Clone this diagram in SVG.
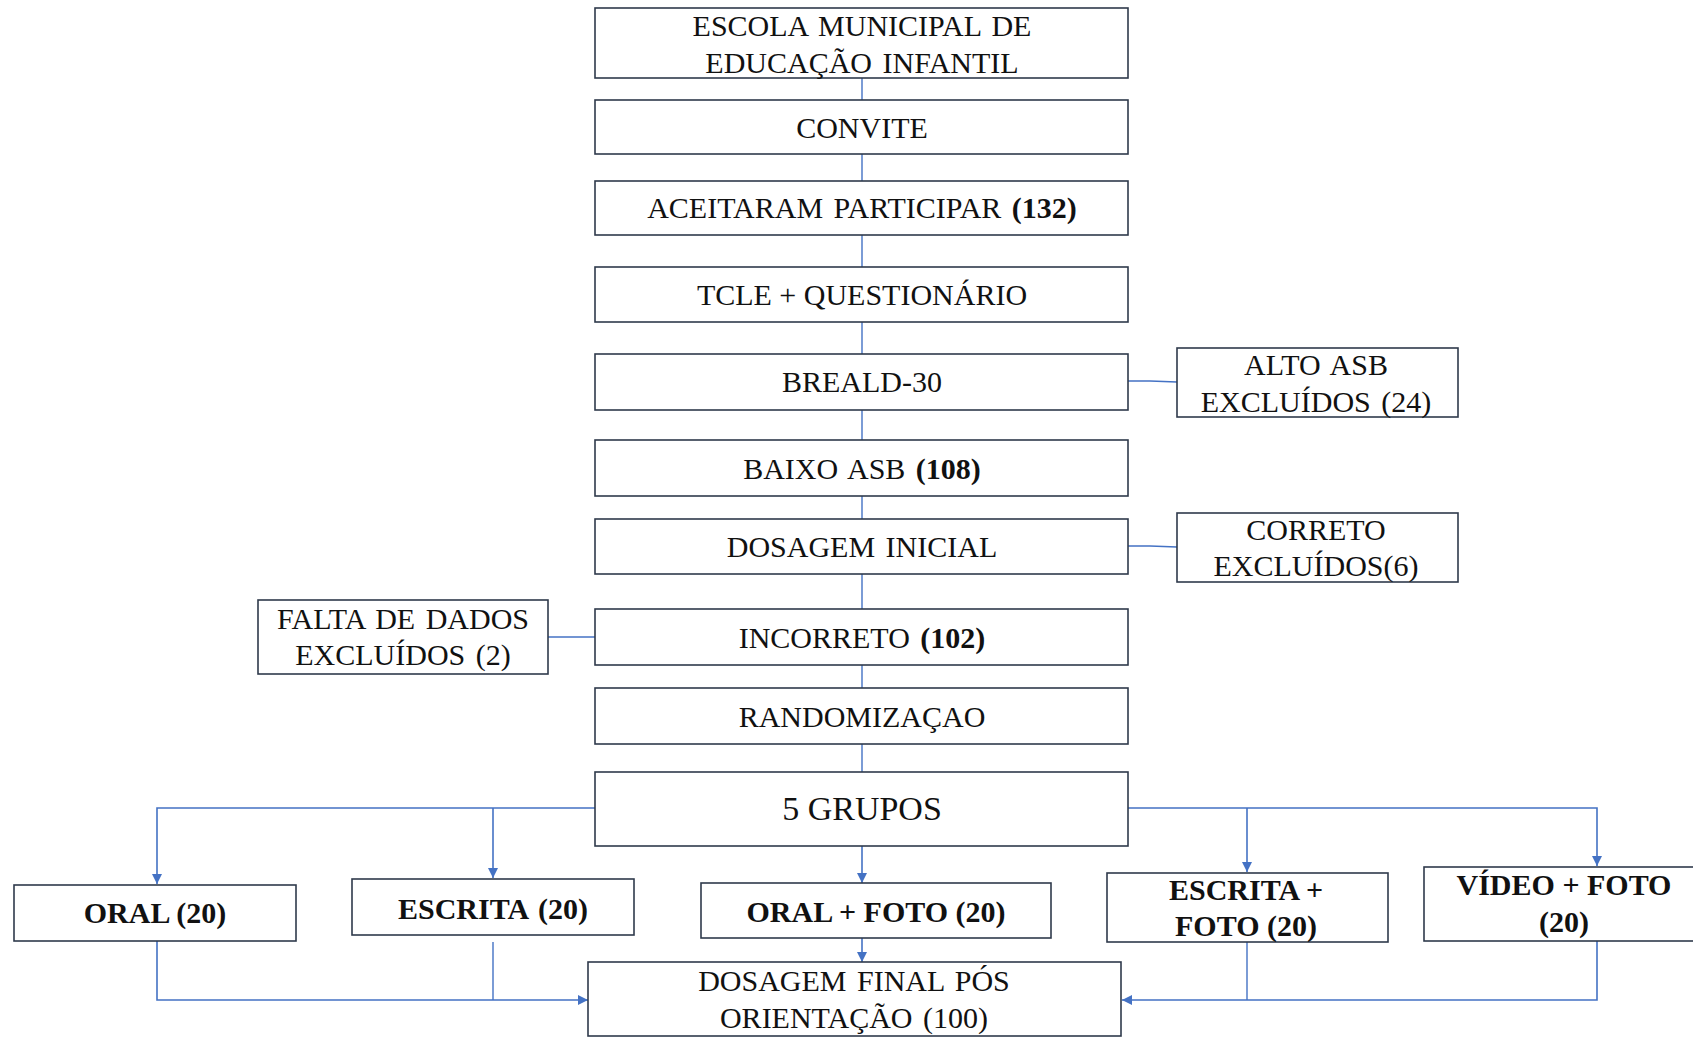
<svg xmlns="http://www.w3.org/2000/svg" width="1693" height="1037" viewBox="0 0 1693 1037">
<style>
.box{fill:#ffffff;stroke:#2f3a4b;stroke-width:1.6}
.t{font-family:"Liberation Serif","Times New Roman",serif;font-size:30px;fill:#111111;text-anchor:middle;word-spacing:3px}
.n{word-spacing:0px}
.b{font-weight:bold}
.big{font-size:34px}
.c{fill:none;stroke:#4472c4;stroke-width:1.4}
.ca{fill:none;stroke:#4472c4;stroke-width:1.6;marker-end:url(#ah)}
</style>
<defs>
<marker id="ah" viewBox="0 0 10 10" refX="10" refY="5" markerWidth="10" markerHeight="11" markerUnits="userSpaceOnUse" orient="auto">
<path d="M0,0 L10,5 L0,10 z" fill="#4472c4"/>
</marker>
</defs>
<rect width="1693" height="1037" fill="#ffffff"/>

<g id="connectors">
<line class="c" x1="862" y1="78" x2="862" y2="100"/>
<line class="c" x1="862" y1="154" x2="862" y2="181"/>
<line class="c" x1="862" y1="235" x2="862" y2="267"/>
<line class="c" x1="862" y1="322" x2="862" y2="354"/>
<line class="c" x1="862" y1="410" x2="862" y2="440"/>
<line class="c" x1="862" y1="496" x2="862" y2="519"/>
<line class="c" x1="862" y1="574" x2="862" y2="609"/>
<line class="c" x1="862" y1="665" x2="862" y2="688"/>
<line class="c" x1="862" y1="744" x2="862" y2="772"/>
<polyline class="c" points="1128,381 1150,381 1177,382"/>
<polyline class="c" points="1128,546 1150,546 1177,547"/>
<line class="c" x1="548" y1="637" x2="596" y2="637"/>
<polyline class="ca" points="595,808 157,808 157,884"/>
<polyline class="ca" points="493,808 493,878"/>
<polyline class="ca" points="1128,808 1597,808 1597,866"/>
<polyline class="ca" points="1247,808 1247,872"/>
<polyline class="ca" points="862,846 862,883"/>
<polyline class="ca" points="862,938 862,962"/>
<polyline class="ca" points="157,941 157,1000 588,1000"/>
<polyline class="c" points="493,942 493,1000"/>
<polyline class="ca" points="1597,941 1597,1000 1122,1000"/>
<polyline class="c" points="1247,942 1247,1000"/>
</g>

<g id="n-escola">
<rect class="box" x="595" y="8" width="533" height="70"/>
<text class="t" x="862" y="36">ESCOLA MUNICIPAL DE</text>
<text class="t" x="862" y="73">EDUCAÇÃO INFANTIL</text>
</g>
<g id="n-convite">
<rect class="box" x="595" y="100" width="533" height="54"/>
<text class="t" x="862" y="138">CONVITE</text>
</g>
<g id="n-aceitaram">
<rect class="box" x="595" y="181" width="533" height="54"/>
<text class="t" x="862" y="218">ACEITARAM PARTICIPAR <tspan class="b">(132)</tspan></text>
</g>
<g id="n-tcle">
<rect class="box" x="595" y="267" width="533" height="55"/>
<text class="t n" x="862" y="305">TCLE + QUESTIONÁRIO</text>
</g>
<g id="n-breald">
<rect class="box" x="595" y="354" width="533" height="56"/>
<text class="t" x="862" y="392">BREALD-30</text>
</g>
<g id="n-alto">
<rect class="box" x="1177" y="348" width="281" height="69"/>
<text class="t" x="1316" y="375">ALTO ASB</text>
<text class="t" x="1316" y="412">EXCLUÍDOS (24)</text>
</g>
<g id="n-baixo">
<rect class="box" x="595" y="440" width="533" height="56"/>
<text class="t" x="862" y="479">BAIXO ASB <tspan class="b">(108)</tspan></text>
</g>
<g id="n-dosagem-inicial">
<rect class="box" x="595" y="519" width="533" height="55"/>
<text class="t" x="862" y="557">DOSAGEM INICIAL</text>
</g>
<g id="n-correto">
<rect class="box" x="1177" y="513" width="281" height="69"/>
<text class="t" x="1316" y="540">CORRETO</text>
<text class="t" x="1316" y="576">EXCLUÍDOS(6)</text>
</g>
<g id="n-falta">
<rect class="box" x="258" y="600" width="290" height="74"/>
<text class="t" x="403" y="629">FALTA DE DADOS</text>
<text class="t" x="403" y="665">EXCLUÍDOS (2)</text>
</g>
<g id="n-incorreto">
<rect class="box" x="595" y="609" width="533" height="56"/>
<text class="t" x="862" y="648">INCORRETO <tspan class="b">(102)</tspan></text>
</g>
<g id="n-random">
<rect class="box" x="595" y="688" width="533" height="56"/>
<text class="t" x="862" y="727">RANDOMIZAÇAO</text>
</g>
<g id="n-grupos">
<rect class="box" x="595" y="772" width="533" height="74"/>
<text class="t big n" x="862" y="820">5 GRUPOS</text>
</g>
<g id="n-oral">
<rect class="box" x="14" y="885" width="282" height="56"/>
<text class="t b n" x="155" y="923">ORAL (20)</text>
</g>
<g id="n-escrita">
<rect class="box" x="352" y="879" width="282" height="56"/>
<text class="t b" x="493" y="919">ESCRITA (20)</text>
</g>
<g id="n-oral-foto">
<rect class="box" x="701" y="883" width="350" height="55"/>
<text class="t b n" x="876" y="922">ORAL + FOTO (20)</text>
</g>
<g id="n-escrita-foto">
<rect class="box" x="1107" y="873" width="281" height="69"/>
<text class="t b n" x="1246" y="900">ESCRITA +</text>
<text class="t b n" x="1246" y="936">FOTO (20)</text>
</g>
<g id="n-video-foto">
<rect class="box" x="1424" y="867" width="280" height="74"/>
<text class="t b n" x="1564" y="895">VÍDEO + FOTO</text>
<text class="t b n" x="1564" y="932">(20)</text>
</g>
<g id="n-dosagem-final">
<rect class="box" x="588" y="962" width="533" height="74"/>
<text class="t" x="854" y="991">DOSAGEM FINAL PÓS</text>
<text class="t" x="854" y="1028">ORIENTAÇÃO (100)</text>
</g>
</svg>
